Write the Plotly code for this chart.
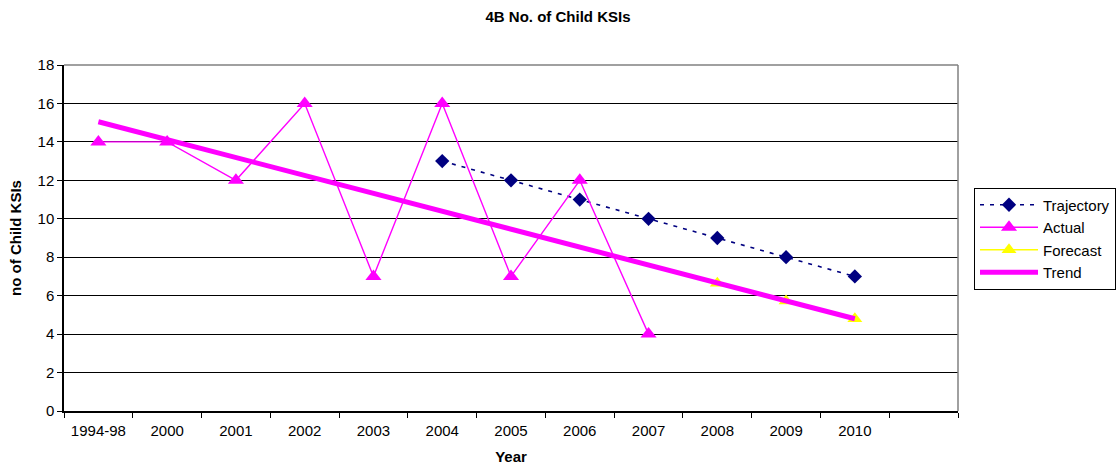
import plotly.graph_objects as go

categories = ["1994-98", "2000", "2001", "2002", "2003", "2004", "2005",
              "2006", "2007", "2008", "2009", "2010", " "]

actual_x = ["1994-98", "2000", "2001", "2002", "2003", "2004", "2005", "2006", "2007"]
actual_y = [14, 14, 12, 16, 7, 16, 7, 12, 4]

trajectory_x = ["2004", "2005", "2006", "2007", "2008", "2009", "2010"]
trajectory_y = [13, 12, 11, 10, 9, 8, 7]

forecast_x = ["2008", "2009", "2010"]
forecast_y = [6.65, 5.72, 4.8]

trend_x = ["1994-98", "2000", "2001", "2002", "2003", "2004", "2005",
           "2006", "2007", "2008", "2009", "2010"]
trend_y = [15.05, 14.12, 13.19, 12.26, 11.33, 10.4, 9.46, 8.53, 7.6, 6.67, 5.73, 4.8]

FONT = "Liberation Sans, Arial, sans-serif"

fig = go.Figure()
fig.add_trace(go.Scatter(
    x=trajectory_x, y=trajectory_y, name="Trajectory", mode="lines+markers",
    line=dict(color="#000080", width=1.6, dash="4px,6px"),
    marker=dict(symbol="diamond", size=11, color="#000080"),
))
fig.add_trace(go.Scatter(
    x=actual_x, y=actual_y, name="Actual", mode="lines+markers",
    line=dict(color="#FF00FF", width=1.4),
    marker=dict(symbol="triangle-up", size=14, color="#FF00FF"),
))
fig.add_trace(go.Scatter(
    x=forecast_x, y=forecast_y, name="Forecast", mode="lines+markers",
    line=dict(color="#FFFF00", width=1.4),
    marker=dict(symbol="triangle-up", size=13, color="#FFFF00"),
))
fig.add_trace(go.Scatter(
    x=trend_x, y=trend_y, name="Trend", mode="lines",
    line=dict(color="#FF00FF", width=5),
))

fig.update_layout(
    width=1116, height=467,
    margin=dict(l=64, r=158, t=65, b=56, autoexpand=False),
    paper_bgcolor="white", plot_bgcolor="white",
    font=dict(family=FONT, size=15, color="black"),
    title=dict(text="<b>4B No. of Child KSIs</b>", x=0.5, xref="container",
               xanchor="center", y=1 - 17/467, yanchor="middle",
               font=dict(size=15, family=FONT)),
    showlegend=True,
    legend=dict(x=974/1116, xref="container", xanchor="left",
                y=1 - 238.5/467, yref="container", yanchor="middle",
                bordercolor="black", borderwidth=1, bgcolor="white",
                font=dict(size=15, family=FONT), tracegroupgap=0,
                itemwidth=58),
)
fig.update_xaxes(
    type="category", categoryorder="array", categoryarray=categories,
    range=[-0.5, 12.5], tickson="boundaries", ticks="outside", ticklen=5,
    tickcolor="black", showline=True, linecolor="black", linewidth=1.5,
    mirror=False, showgrid=False, tickfont=dict(size=15), ticklabelstandoff=5,
    automargin=False,
    title=dict(text="<b>Year</b>", font=dict(size=15), standoff=14),
)
fig.update_yaxes(
    range=[0, 18], dtick=2, ticks="outside", ticklen=5, tickcolor="black",
    showline=True, linecolor="black", linewidth=1.5, showgrid=True,
    gridcolor="black", gridwidth=1, zeroline=False, tickfont=dict(size=15),
    automargin=False,
    title=dict(text="<b>no of Child KSIs</b>", font=dict(size=15), standoff=12),
)
# gray top and right frame of plot area
fig.add_shape(type="line", xref="paper", yref="paper", x0=0, x1=1, y0=1, y1=1,
              line=dict(color="#808080", width=1.5))
fig.add_shape(type="line", xref="paper", yref="paper", x0=1, x1=1, y0=0, y1=1,
              line=dict(color="#808080", width=1.5))

fig.write_html("out.html", config={"displayModeBar": False},
               post_script="document.body.style.margin='0';document.body.style.overflow='hidden';")
